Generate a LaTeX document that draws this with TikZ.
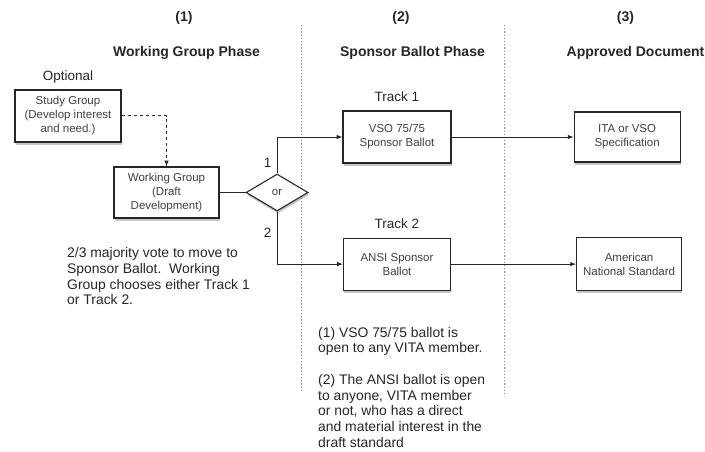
\documentclass[tikz,border=0pt]{standalone}
\usepackage{fontspec}
\setmainfont{Liberation Sans}
\usetikzlibrary{shapes,arrows,shapes.geometric,positioning,shadows}

\begin{document}
\begin{tikzpicture}[x=1pt,y=-1pt]
    \tikzset{
        box/.style = {rectangle, draw=black!85, line width=1.1pt, fill=white, align=center, inner sep=2pt,
            minimum width=106pt, minimum height=52pt, text=black!75, font=\fontsize{11.5}{14}\selectfont,
            drop shadow={shadow xshift=0.8pt, shadow yshift=-2.5pt, opacity=0.45}},
        choice/.style = {diamond, draw=black!85, line width=1.1pt, fill=white, inner sep=0pt,
            minimum width=62pt, minimum height=37pt, text=black!75, font=\fontsize{11.5}{14}\selectfont,
            drop shadow={shadow xshift=0.8pt, shadow yshift=-2.5pt, opacity=0.45}},
        phase/.style = {font=\fontsize{14}{16}\selectfont\bfseries, text=black!85},
        tag/.style = {font=\fontsize{13.5}{16}\selectfont, text=black!85},
        remark/.style = {font=\fontsize{13.9}{15.7}\selectfont, text=black!85, align=left, anchor=north west, inner sep=0pt},
        line/.style = {draw=black!85, line width=1pt, -latex},
        dashline/.style = {draw=black!85, line width=1pt, dashed, -latex},
        divider/.style = {draw=black!50, line width=1.2pt, dotted}
    }
    \useasboundingbox (0,0) rectangle (705,452);

    % phase headers
    \node[phase](p1) at (184,18){(1)};
    \node[phase](p2) at (401,18){(2)};
    \node[phase](p3) at (625.5,18){(3)};
    \node[phase](wgphase) at (186.5,53){Working Group Phase};
    \node[phase](sbphase) at (412.5,53){Sponsor Ballot Phase};
    \node[phase](adphase) at (635.5,53){Approved Document};

    \draw[divider] (301.5,25) -- (301.5,390);
    \draw[divider] (504.5,25) -- (504.5,395);

    % working group phase
    \node[box](study) at (68,116){Study Group\\(Develop interest\\and need.)};
    \node[tag](optional)[above = 3pt of study]{Optional};
    \node[box, minimum width=105pt, minimum height=51pt](wg) at (166.5,192.5){Working Group\\(Draft\\Development)};
    \node[choice](or)[right = 26pt of wg]{or};

    \node[remark](vote) at (67,247.5){2/3 majority vote to move to\\Sponsor Ballot.\ \ Working\\Group chooses either Track 1\\or Track 2.};

    % sponsor ballot phase
    \node[box, minimum width=108pt](vso) at (397,137){VSO 75/75\\Sponsor Ballot};
    \node[box, minimum width=107pt](ansi)[below = 74pt of vso]{ANSI Sponsor\\Ballot};
    \node[tag](track1)[above = 5pt of vso]{Track 1};
    \node[tag](track2)[above = 5pt of ansi]{Track 2};

    \node[remark](ballots) at (318,327){(1) VSO 75/75 ballot is\\open to any VITA member.\\[15.7pt](2) The ANSI ballot is open\\to anyone, VITA member\\or not, who has a direct\\and material interest in the\\draft standard};

    % approved document
    \node[box, minimum height=50pt](ita)[right = 122pt of vso]{ITA or VSO\\Specification};
    \node[box, minimum width=105pt, minimum height=53pt](ans)[right = 125pt of ansi]{American\\National Standard};

    \path [dashline] (study.east) -| (wg.north);
    \path [draw=black!85, line width=1pt] (wg) -- (or);
    \path [line] (or.north) |- node[tag, left, pos=0.15, xshift=-2pt]{1} (vso);
    \path [line] (or.south) |- node[tag, left, pos=0.2, xshift=-2pt]{2} (ansi);
    \path [line] (vso) -- (ita);
    \path [line] (ansi) -- (ans);

\end{tikzpicture}
\end{document}
